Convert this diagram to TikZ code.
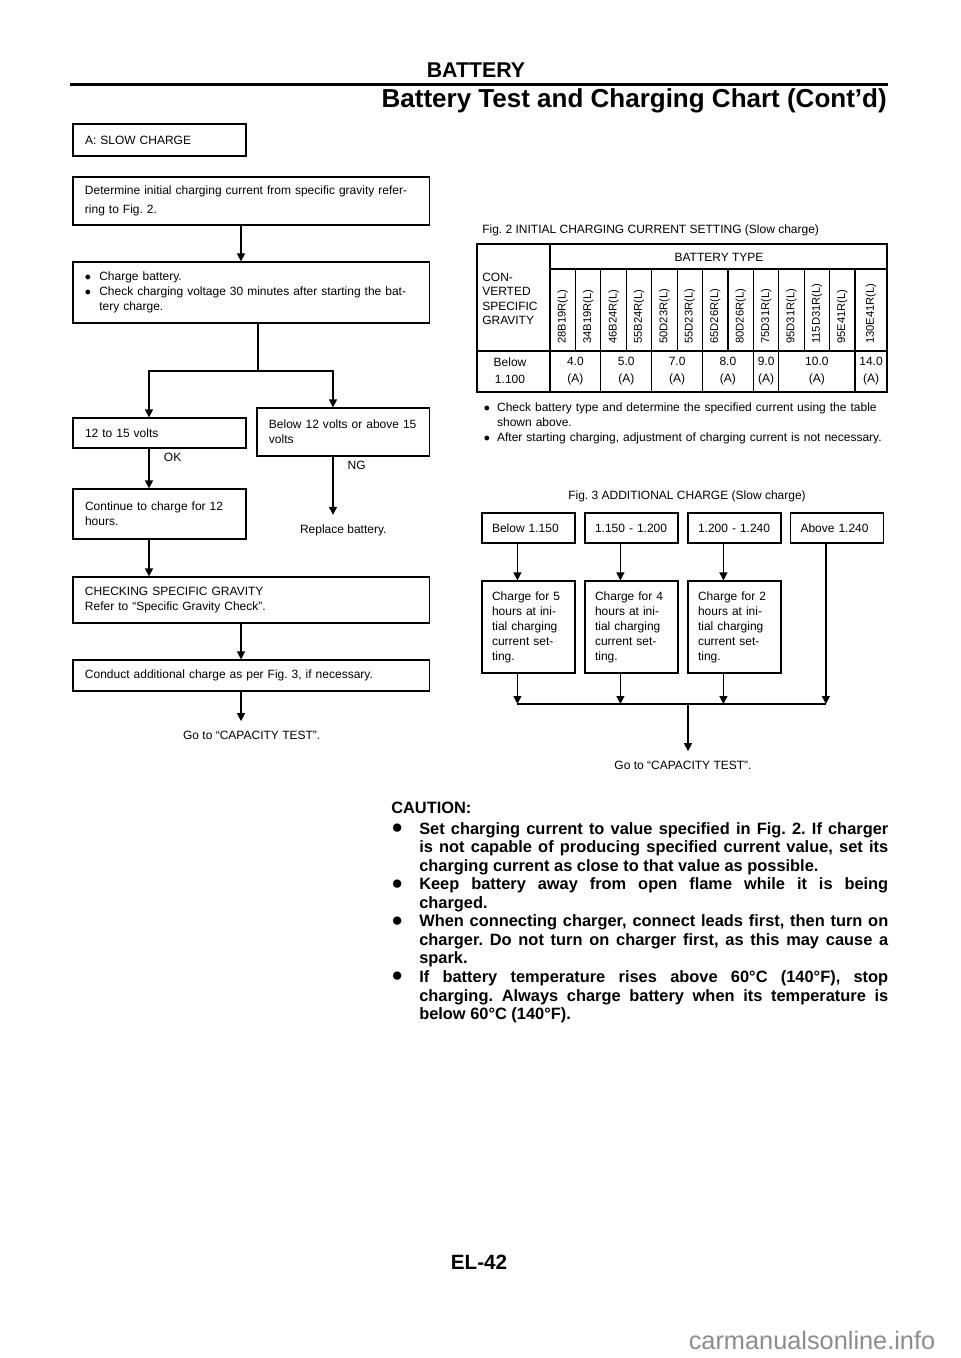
\documentclass[tikz,border=0pt]{standalone}
\usepackage{fontspec}
\usepackage{graphicx}
\setmainfont{Liberation Sans}
\usetikzlibrary{arrows.meta}
\frenchspacing

\definecolor{wmgray}{RGB}{140,140,140}
\newcommand{\smalltxt}{\fontsize{9}{11.25}\selectfont}
\newcommand{\cautiontxt}{\fontsize{12.3}{13.9}\selectfont\bfseries}
\newcommand{\bul}{\makebox[10.7pt][l]{$\bullet$}}
\newcommand{\notebul}{\makebox[10pt][l]{$\bullet$}}
\newcommand{\cautem}[1]{\par\hangindent=21pt\hangafter=1\noindent\makebox[21pt][l]{\hspace{0.5pt}\raisebox{0.4pt}{\scalebox{1.35}{$\bullet$}}}#1\par}

\begin{document}
\begin{tikzpicture}[x=0.75pt,y=-0.75pt,
		flowbox/.style={draw, line width=0.9pt, inner ysep=0pt, inner xsep=9pt, align=left, font=\smalltxt},
		wide/.style={text width=249.4pt},
		fbox/.style={draw, line width=0.9pt, inner ysep=0pt, inner xsep=7.5pt, text width=54.75pt, align=left, font=\smalltxt},
		arr/.style={-{Triangle[length=6pt,width=6pt]}, line width=0.9pt},
		line/.style={line width=0.9pt},
		endtext/.style={inner xsep=0pt, inner ysep=7pt, font=\smalltxt},
		lbl/.style={inner sep=0pt, font=\smalltxt}]
	\useasboundingbox (0,0) rectangle (960,1358);
	
	% Page header
	\node[font=\fontsize{16}{16}\selectfont\bfseries] (sect) at (476,70) {BATTERY};
	\draw[line width=2.6pt] (70,84.5) -- (888,84.5); % Header rule
	\node[anchor=base east, inner sep=0pt, font=\fontsize{19.5}{19.5}\selectfont\bfseries] (subt) at (887,107.5) {Battery Test and Charging Chart (Cont'd)};
	
	% Slow charge flow chart
	\node[flowbox, text width=111.75pt, minimum height=24pt, line width=1.6pt] (slow) at (159.5,140) {A: SLOW CHARGE};
	\node[flowbox, wide, minimum height=36pt, font=\fontsize{9}{13.7}\selectfont] (deter) at (251.25,201) {Determine initial charging current from specific gravity refer-\\ring to Fig.~2.};
	\node[flowbox, wide, minimum height=45.75pt] (chg) at (251.25,292.5) {\bul Charge battery.\\\bul Check charging voltage 30 minutes after starting the bat-\\\hspace*{10.7pt}tery charge.};
	\node[flowbox, text width=111.75pt, minimum height=22.5pt] (ok15) at (159.5,433) {12 to 15 volts};
	\node[flowbox, text width=111.4pt, minimum height=36pt] (ng15) at (343.25,432) {Below 12 volts or above 15\\volts};
	\node[flowbox, text width=111.75pt, minimum height=37.5pt] (cont) at (159.5,514) {Continue to charge for 12\\hours.};
	\node[flowbox, wide, minimum height=34.5pt] (grav) at (251.25,600) {CHECKING SPECIFIC GRAVITY\\Refer to ``Specific Gravity Check''.};
	\node[flowbox, wide, minimum height=23.25pt] (addl) at (251.25,675.5) {Conduct additional charge as per Fig.~3, if necessary.};
	\node[endtext] (repl) at (343.3,530) {Replace battery.};
	\node[endtext] (goto1) at (251.7,735) {Go to ``CAPACITY TEST''.};
	\node[lbl] (okl) at (172.6,457) {OK};
	\node[lbl] (ngl) at (356.6,465) {NG};
	
	% Lanes of the connectors
	\coordinate (xm) at (241,0);
	\coordinate (xs) at (258,0);
	\coordinate (xl) at (149,0);
	\coordinate (xr) at (333,0);
	\coordinate (split) at (258,371);
	
	\draw[arr] (deter.south -| xm) -- (chg.north -| xm);
	\draw[line] (chg.south -| xs) -- (split); % Voltage check branches
	\draw[arr] (split) -| (ok15.north -| xl);
	\draw[arr] (split) -| (ng15.north -| xr);
	\draw[arr] (ok15.south -| xl) -- (cont.north -| xl);
	\draw[arr] (ng15.south -| xr) -- (repl.north -| xr);
	\draw[arr] (cont.south -| xl) -- (grav.north -| xl);
	\draw[arr] (grav.south -| xm) -- (addl.north -| xm);
	\draw[arr] (addl.south -| xm) -- (goto1.north -| xm);
	
	% Fig. 2 table
	\node[lbl, anchor=west] (fig2) at (482,230) {Fig.~2 INITIAL CHARGING CURRENT SETTING (Slow charge)};
	\draw[line] (477,244) rectangle (887,392); % Outer frame
	\draw[line] (550,244) -- (550,392);
	\draw[line] (550,269) -- (887,269);
	\draw[line] (477,351) -- (887,351);
	\foreach \i in {1,...,12}
		\draw[line] (550+25.42*\i,269) -- (550+25.42*\i,351);
	\foreach \i in {2,4,6,8,9,12}
		\draw[line] (550+25.42*\i,351) -- (550+25.42*\i,392);
	\node[lbl] (btype) at (719,257) {BATTERY TYPE};
	\node[lbl, anchor=west, align=left, font=\fontsize{9}{10.9}\selectfont] (csg) at (482,299) {CON-\\VERTED\\SPECIFIC\\GRAVITY};
	\node[lbl, align=center, font=\fontsize{9}{12.5}\selectfont] (below) at (510,371) {Below\\1.100};
	\foreach \t/\xc [count=\i] in {28B19R(L)/562.7,34B19R(L)/588.1,46B24R(L)/613.6,55B24R(L)/639.0,50D23R(L)/664.4,55D23R(L)/689.8,65D26R(L)/715.2,80D26R(L)/740.7,75D31R(L)/766.1,95D31R(L)/791.5,115D31R(L)/816.9,95E41R(L)/842.3,130E41R(L)/871}
		\node[lbl, rotate=90, anchor=west, font=\fontsize{8.4}{8.4}\selectfont] (t\i) at (\xc,344) {\t};
	\foreach \v/\xc [count=\i] in {4.0/575.4,5.0/626.3,7.0/677.1,8.0/727.9,9.0/766.1,10.0/816.9,14.0/871}
		\node[lbl, align=center, font=\fontsize{9}{12.5}\selectfont] (v\i) at (\xc,371) {\v\\(A)};
	\node[lbl, anchor=west, text width=310pt, align=left, font=\fontsize{9}{11.2}\selectfont] (notes) at (483.5,423) {\notebul Check battery type and determine the specified current using the table\\\hspace*{10pt}shown above.\\\notebul After starting charging, adjustment of charging current is not necessary.};
	
	% Fig. 3 additional charge
	\node[lbl] (fig3) at (687,496) {Fig.~3 ADDITIONAL CHARGE (Slow charge)};
	\foreach \g/\xc [count=\i] in {Below 1.150/528.5,1.150 - 1.200/631.5,1.200 - 1.240/734.5,Above 1.240/837}
		\node[fbox, minimum height=22.5pt] (g\i) at (\xc,528) {\g};
	\foreach \h/\xc [count=\i] in {5/528.5,4/631.5,2/734.5}
		\node[fbox, minimum height=69pt] (c\i) at (\xc,627) {Charge for \h\\hours at ini-\\tial charging\\current set-\\ting.};
	\node[endtext] (goto2) at (683,765) {Go to ``CAPACITY TEST''.};
	\coordinate (bus) at (688,704);
	\foreach \i in {1,...,4}
		\path ([xshift=27pt]g\i.south west) coordinate (lane\i);
	\foreach \i in {1,2,3} {
		\draw[arr] (lane\i) -- (c\i.north -| lane\i);
		\draw[arr] (c\i.south -| lane\i) -- (bus -| lane\i);
	}
	\draw[arr] (lane4) -- (bus -| lane4);
	\draw[line] (bus -| lane1) -- (bus -| lane4); % Collecting line
	\draw[arr] (bus) -- (goto2.north -| bus);
	
	% Caution text
	\node[anchor=north west, inner sep=0pt, text width=372.75pt, align=justify, font=\cautiontxt] (caution) at (391,802) {CAUTION:\par\vspace{1.5pt}
		\cautem{Set charging current to value specified in Fig.~2. If charger\linebreak is not capable of producing specified current value, set its\linebreak charging current as close to that value as possible.}
		\cautem{Keep battery away from open flame while it is being\linebreak charged.}
		\cautem{When connecting charger, connect leads first, then turn on\linebreak charger. Do not turn on charger first, as this may cause a\linebreak spark.}
		\cautem{If battery temperature rises above 60°C (140°F), stop\linebreak charging. Always charge battery when its temperature is\linebreak below 60°C (140°F).}};
	
	% Page footer
	\node[font=\fontsize{15.5}{15.5}\selectfont\bfseries] (page) at (479,1262) {EL-42};
	\node[font=\fontsize{19}{19}\selectfont, text=wmgray] (wm) at (812,1340) {carmanualsonline.info};
\end{tikzpicture}
\end{document}
